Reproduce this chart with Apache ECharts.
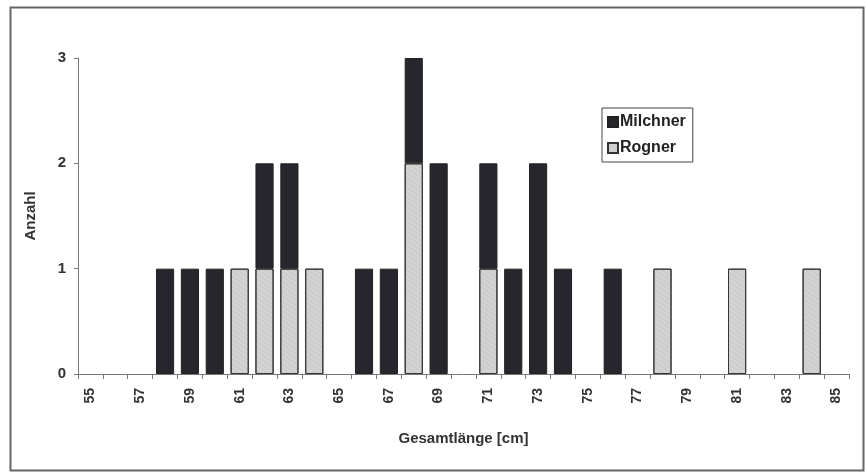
<!DOCTYPE html>
<html>
<head>
<meta charset="utf-8">
<script src="https://cdn.jsdelivr.net/npm/echarts@6/dist/echarts.min.js"></script>
<style>
  html, body { margin: 0; padding: 0; background: #fff; }
  #chart { width: 866px; height: 474px; }
</style>
</head>
<body>
<div id="chart"></div>
<script>
// Gesamtlänge in cm, 55..85
const lengths = []
for (let l = 55; l <= 85; l++) lengths.push(String(l))

const milchnerCounts = {58: 1, 59: 1, 60: 1, 62: 1, 63: 1, 66: 1, 67: 1, 68: 1, 69: 2, 71: 1, 72: 1, 73: 2, 74: 1, 76: 1}
const rognerCounts = {61: 1, 62: 1, 63: 1, 64: 1, 68: 2, 71: 1, 78: 1, 81: 1, 84: 1}

// empty classes stay empty (no zero-height bars)
const milchner = lengths.map(l => milchnerCounts[l] || '-')
const rogner = lengths.map(l => rognerCounts[l] || '-')

const font = 'Liberation Sans, Arial, sans-serif'
const chart = echarts.init(document.getElementById('chart'))

chart.setOption({
  backgroundColor: '#fff',
  animation: false,
  graphic: [
    {
      type: 'rect',
      shape: { x: 10.5, y: 7.5, width: 853, height: 463 },
      style: { fill: 'none', stroke: '#666', lineWidth: 2 },
      silent: true
    }
  ],
  grid: { left: 78, right: 17, top: 58, bottom: 100, containLabel: false },
  legend: {
    data: ['Milchner', 'Rogner'],
    orient: 'vertical',
    left: 602,
    top: 108,
    icon: 'rect',
    itemWidth: 10,
    itemHeight: 10,
    itemGap: 10,
    padding: [6, 7, 6, 5],
    borderColor: '#444',
    borderWidth: 1,
    textStyle: { fontFamily: font, fontWeight: 'bold', fontSize: 16, color: '#222', padding: [0, 0, 0, -3] }
  },
  xAxis: {
    type: 'category',
    data: lengths,
    name: 'Gesamtlänge [cm]',
    nameLocation: 'middle',
    nameGap: 57,
    nameTextStyle: { fontFamily: font, fontWeight: 'bold', fontSize: 15, color: '#333' },
    axisLine: { lineStyle: { color: '#777', width: 1 } },
    axisTick: { show: true, alignWithLabel: false, interval: 0, length: 5, lineStyle: { color: '#777' } },
    axisLabel: {
      interval: 1,
      rotate: 90,
      margin: 14,
      fontFamily: font,
      fontWeight: 'bold',
      fontSize: 14,
      color: '#333'
    }
  },
  yAxis: {
    type: 'value',
    min: 0,
    max: 3,
    interval: 1,
    name: 'Anzahl',
    nameLocation: 'middle',
    nameGap: 40,
    nameTextStyle: { fontFamily: font, fontWeight: 'bold', fontSize: 15, color: '#333' },
    axisLine: { show: true, lineStyle: { color: '#777', width: 1 } },
    axisTick: { show: true, length: 4, lineStyle: { color: '#777' } },
    axisLabel: { margin: 12, fontFamily: font, fontWeight: 'bold', fontSize: 15, color: '#333' },
    splitLine: { show: false }
  },
  series: [
    {
      name: 'Rogner',
      type: 'bar',
      stack: 'total',
      data: rogner,
      barCategoryGap: '27%',
      itemStyle: {
        color: '#d4d4d4',
        borderColor: '#333',
        borderWidth: 1,
        decal: { symbol: 'rect', symbolSize: 0.5, dashArrayX: [1, 0], dashArrayY: [2, 2], color: 'rgba(120,120,120,0.35)', rotation: 0.6 }
      }
    },
    {
      name: 'Milchner',
      type: 'bar',
      stack: 'total',
      data: milchner,
      barCategoryGap: '27%',
      itemStyle: { color: '#26262c', borderColor: '#222', borderWidth: 1 }
    }
  ]
})
</script>
</body>
</html>
